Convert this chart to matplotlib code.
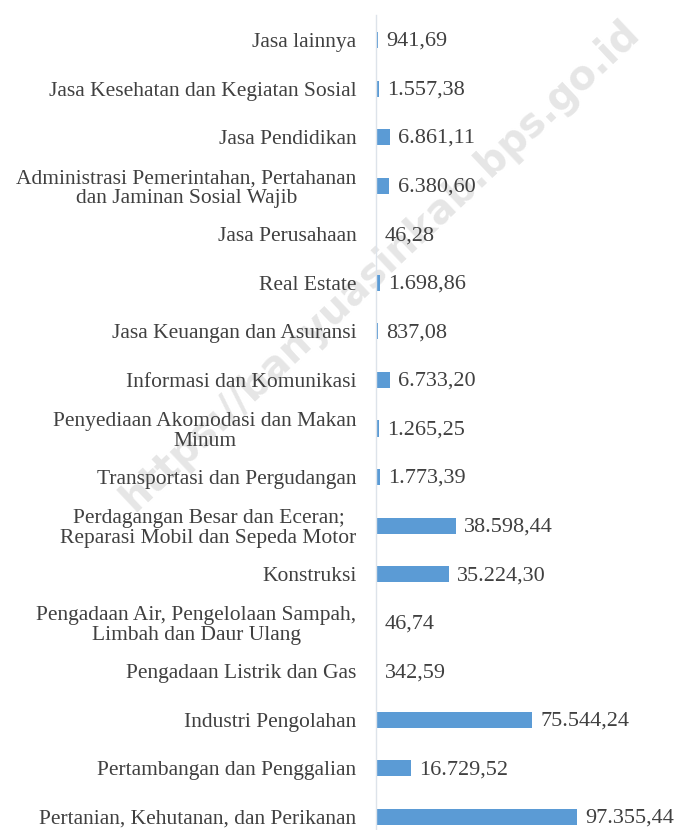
import matplotlib.pyplot as plt

# =====================
# 数据
# =====================

categories = [
    "Pertanian, Kehutanan, dan Perikanan",
    "Pertambangan dan Penggalian",
    "Industri Pengolahan",
    "Pengadaan Listrik dan Gas",
    "Pengadaan Air, Pengelolaan Sampah,\nLimbah dan Daur Ulang",
    "Konstruksi",
    "Perdagangan Besar dan Eceran;\nReparasi Mobil dan Sepeda Motor",
    "Transportasi dan Pergudangan",
    "Penyediaan Akomodasi dan Makan\nMinum",
    "Informasi dan Komunikasi",
    "Jasa Keuangan dan Asuransi",
    "Real Estate",
    "Jasa Perusahaan",
    "Administrasi Pemerintahan, Pertahanan\ndan Jaminan Sosial Wajib",
    "Jasa Pendidikan",
    "Jasa Kesehatan dan Kegiatan Sosial",
    "Jasa lainnya",
]

values = [
    97355.44, 16729.52, 75544.24, 342.59, 46.74, 35224.30, 38598.44,
    1773.39, 1265.25, 6733.20, 837.08, 1698.86, 46.28, 6380.60,
    6861.11, 1557.38, 941.69,
]

value_labels = [
    "97.355,44", "16.729,52", "75.544,24", "342,59", "46,74", "35.224,30",
    "38.598,44", "1.773,39", "1.265,25", "6.733,20", "837,08", "1.698,86",
    "46,28", "6.380,60", "6.861,11", "1.557,38", "941,69",
]

# =====================
# 图表
# =====================

plt.rcParams['font.family'] = ['Liberation Serif', 'DejaVu Serif']

fig = plt.figure(figsize=(6.76, 8.30), dpi=100)
ax = fig.add_axes([376 / 676, 0, 300 / 676, 815 / 830])
ax.set_zorder(1)
ax.patch.set_visible(False)

text_color = '#404040'
pos = list(range(len(categories)))

ax.barh(pos, values, height=0.33, color='#5b9bd5', zorder=2)

for y, v, lab in zip(pos, values, value_labels):
    ax.annotate(lab, (v, y), xytext=(6, -1), textcoords='offset points',
                ha='left', va='center', fontsize=16, color=text_color,
                zorder=3, annotation_clip=False)

ax.set_xlim(0, 145300)
ax.set_ylim(-0.268, 16.515)
ax.set_yticks(pos)
ax.set_yticklabels(categories, fontsize=15.5, color=text_color,
                   multialignment='center', linespacing=1.05)
ax.tick_params(axis='y', length=0, pad=14)
ax.set_xticks([])

for side in ['top', 'right', 'bottom']:
    ax.spines[side].set_visible(False)
ax.spines['left'].set_color('#dde3ea')
ax.spines['left'].set_linewidth(1.0)

# 水印
fig.text(0.562, 0.68, "https://banyuasinkab.bps.go.id", rotation=43.3,
         ha='center', va='center', fontsize=28.5, fontweight='bold',
         family='DejaVu Sans', color='#e6e6e6', zorder=0)

fig.savefig("out.png", dpi=100)
